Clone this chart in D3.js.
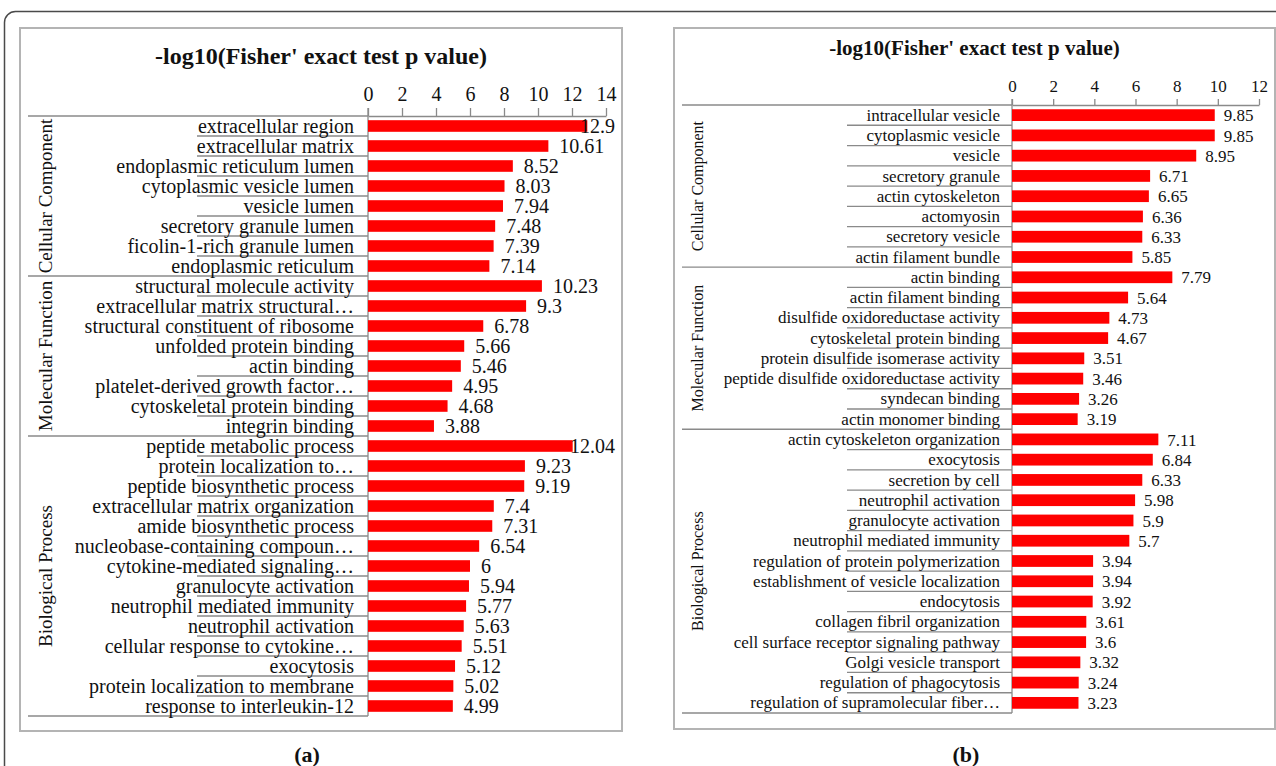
<!DOCTYPE html>
<html>
<head>
<meta charset="utf-8">
<script src="https://cdn.jsdelivr.net/npm/d3@7"></script>
<style>
  html, body { margin: 0; padding: 0; background: #fff; }
  svg { display: block; }
  text { font-family: "Liberation Serif", "Times New Roman", serif; fill: #111; }
</style>
</head>
<body>
<svg id="fig" width="1276" height="766"></svg>
<script>
// GO enrichment, panel (a)
const groupsA = ["Cellular Component", "Molecular Function", "Biological Process"];
const groupSizesA = [8, 8, 14];
const termsA = [
  "extracellular region", "extracellular matrix", "endoplasmic reticulum lumen",
  "cytoplasmic vesicle lumen", "vesicle lumen", "secretory granule lumen",
  "ficolin-1-rich granule lumen", "endoplasmic reticulum",
  "structural molecule activity", "extracellular matrix structural…",
  "structural constituent of ribosome", "unfolded protein binding", "actin binding",
  "platelet-derived growth factor…", "cytoskeletal protein binding", "integrin binding",
  "peptide metabolic process", "protein localization to…", "peptide biosynthetic process",
  "extracellular matrix organization", "amide biosynthetic process",
  "nucleobase-containing compoun…", "cytokine-mediated signaling…", "granulocyte activation",
  "neutrophil mediated immunity", "neutrophil activation", "cellular response to cytokine…",
  "exocytosis", "protein localization to membrane", "response to interleukin-12"
];
const valuesA = [
  12.9, 10.61, 8.52, 8.03, 7.94, 7.48, 7.39, 7.14,
  10.23, 9.3, 6.78, 5.66, 5.46, 4.95, 4.68, 3.88,
  12.04, 9.23, 9.19, 7.4, 7.31, 6.54, 6, 5.94, 5.77, 5.63, 5.51, 5.12, 5.02, 4.99
];
const ticksA = [0, 2, 4, 6, 8, 10, 12, 14];

// GO enrichment, panel (b)
const groupsB = ["Cellular Component", "Molecular Function", "Biological Process"];
const groupSizesB = [8, 8, 14];
const termsB = [
  "intracellular vesicle", "cytoplasmic vesicle", "vesicle", "secretory granule",
  "actin cytoskeleton", "actomyosin", "secretory vesicle", "actin filament bundle",
  "actin binding", "actin filament binding", "disulfide oxidoreductase activity",
  "cytoskeletal protein binding", "protein disulfide isomerase activity",
  "peptide disulfide oxidoreductase activity", "syndecan binding", "actin monomer binding",
  "actin cytoskeleton organization", "exocytosis", "secretion by cell", "neutrophil activation",
  "granulocyte activation", "neutrophil mediated immunity", "regulation of protein polymerization",
  "establishment of vesicle localization", "endocytosis", "collagen fibril organization",
  "cell surface receptor signaling pathway", "Golgi vesicle transport",
  "regulation of phagocytosis", "regulation of supramolecular fiber…"
];
const valuesB = [
  9.85, 9.85, 8.95, 6.71, 6.65, 6.36, 6.33, 5.85,
  7.79, 5.64, 4.73, 4.67, 3.51, 3.46, 3.26, 3.19,
  7.11, 6.84, 6.33, 5.98, 5.9, 5.7, 3.94, 3.94, 3.92, 3.61, 3.6, 3.32, 3.24, 3.23
];
const ticksB = [0, 2, 4, 6, 8, 10, 12];

const titleText = "-log10(Fisher' exact test p value)";
const svg = d3.select("#fig");

// outer figure border with rounded corner
svg.append("rect")
  .attr("x", 4.5).attr("y", 11.5).attr("width", 1400).attr("height", 900)
  .attr("rx", 11).attr("fill", "none").attr("stroke", "#4a4a4a").attr("stroke-width", 1.5);

function drawPanel(terms, values, groups, sizes, ticks, cfg) {
  const g = svg.append("g");
  const n = terms.length;

  // panel frame
  g.append("rect")
    .attr("x", cfg.frame[0]).attr("y", cfg.frame[1])
    .attr("width", cfg.frame[2]).attr("height", cfg.frame[3])
    .attr("fill", "#fff").attr("stroke", "#b4b4b4").attr("stroke-width", 2);

  // title
  g.append("text")
    .attr("x", cfg.frame[0] + cfg.frame[2] / 2).attr("y", cfg.titleY)
    .attr("text-anchor", "middle").attr("font-weight", "bold")
    .attr("font-size", cfg.titleSize).text(titleText);

  const x = d3.scaleLinear().domain([0, d3.max(ticks)]).range([cfg.x0, cfg.x1]);
  const y = d3.scaleBand().domain(d3.range(n)).range([cfg.yTop, cfg.yBot])
    .paddingInner(0.42).paddingOuter(0.21);
  const step = y.step();
  const rowTop = i => cfg.yTop + i * step;

  // value axis on top
  const ax = g.append("g")
    .attr("transform", `translate(0,${cfg.yTop})`)
    .call(d3.axisTop(x).tickValues(ticks).tickSize(cfg.tickLen).tickSizeOuter(0)
      .tickPadding(cfg.tickPad).tickFormat(d3.format("d")));
  ax.select(".domain").attr("stroke", "#8a8a8a").attr("stroke-width", 1.3);
  ax.selectAll(".tick line").attr("stroke", "#8a8a8a").attr("stroke-width", 1.3);
  ax.selectAll(".tick text")
    .style("font-family", "'Liberation Serif', 'Times New Roman', serif")
    .attr("font-size", cfg.tickSize).attr("fill", "#111");

  // category axis line
  g.append("line")
    .attr("x1", cfg.x0).attr("x2", cfg.x0)
    .attr("y1", cfg.yTop - cfg.tickLen).attr("y2", cfg.yBot)
    .attr("stroke", "#8a8a8a").attr("stroke-width", 1.3);

  // row separators within the label area
  const starts = [];
  let acc = 0;
  sizes.forEach(s => { starts.push(acc); acc += s; });
  const groupEdges = new Set(starts.concat([n]));
  d3.range(n + 1).forEach(i => {
    const isGroup = groupEdges.has(i);
    g.append("line")
      .attr("x1", isGroup ? cfg.groupLineX : cfg.rowLineX).attr("x2", cfg.x0)
      .attr("y1", rowTop(i)).attr("y2", rowTop(i))
      .attr("stroke", "#8a8a8a").attr("stroke-width", 1.3);
  });

  // group names, rotated
  groups.forEach((name, k) => {
    const cy = (rowTop(starts[k]) + rowTop(starts[k] + sizes[k])) / 2;
    g.append("text")
      .attr("transform", `translate(${cfg.groupLabelX},${cy}) rotate(-90)`)
      .attr("text-anchor", "middle").attr("dy", "0.35em")
      .attr("font-size", cfg.groupSize).text(name);
  });

  // term labels
  g.selectAll(".term").data(terms).join("text")
    .attr("class", "term")
    .attr("x", cfg.labelRight)
    .attr("y", (d, i) => y(i) + y.bandwidth() / 2)
    .attr("dy", "0.33em").attr("text-anchor", "end")
    .attr("font-size", cfg.labelSize).text(d => d);

  // bars
  g.selectAll(".bar").data(values).join("rect")
    .attr("class", "bar")
    .attr("x", x(0)).attr("y", (d, i) => y(i))
    .attr("width", d => x(d) - x(0)).attr("height", y.bandwidth())
    .attr("fill", "#ff0000");

  // value labels, kept inside the chart's right edge
  g.selectAll(".val").data(values).join("text")
    .attr("class", "val")
    .attr("y", (d, i) => y(i) + y.bandwidth() / 2)
    .attr("dy", "0.36em").attr("font-size", cfg.valueSize)
    .text(d => String(d))
    .attr("x", function (d) {
      const w = this.getComputedTextLength();
      return Math.min(x(d) + cfg.valueGap, cfg.valueLimit - w);
    });

  // caption
  svg.append("text")
    .attr("x", cfg.captionX).attr("y", 762)
    .attr("text-anchor", "middle").attr("font-weight", "bold")
    .attr("font-size", 22).text(cfg.caption);
}

drawPanel(termsA, valuesA, groupsA, groupSizesA, ticksA, {
  frame: [20, 28, 602, 703], titleY: 64, titleSize: 24,
  x0: 368, x1: 606, yTop: 116, yBot: 716,
  tickLen: 8, tickPad: 7, tickSize: 20,
  labelRight: 354, labelSize: 20, rowLineX: 197, groupLineX: 28,
  groupLabelX: 45, groupSize: 19,
  valueSize: 20, valueGap: 11, valueLimit: 615,
  caption: "(a)", captionX: 307
});

drawPanel(termsB, valuesB, groupsB, groupSizesB, ticksB, {
  frame: [674, 28, 601, 701], titleY: 55, titleSize: 21,
  x0: 1012, x1: 1259, yTop: 105, yBot: 713,
  tickLen: 6, tickPad: 7, tickSize: 17,
  labelRight: 1000, labelSize: 17, rowLineX: 847, groupLineX: 682,
  groupLabelX: 697, groupSize: 16,
  valueSize: 17, valueGap: 9, valueLimit: 1270,
  caption: "(b)", captionX: 966
});
</script>
</body>
</html>
